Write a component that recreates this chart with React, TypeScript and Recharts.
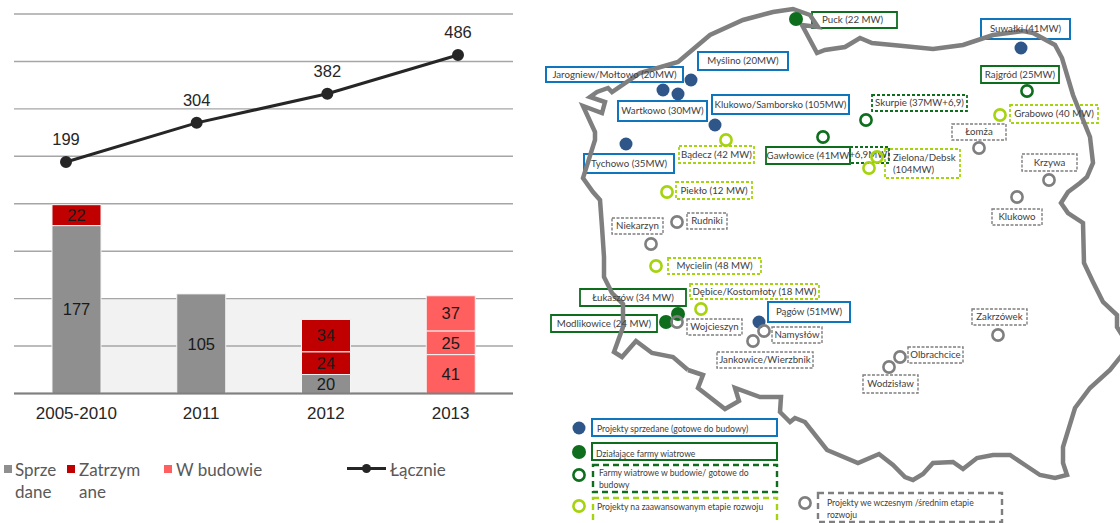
import { Bar, CartesianGrid, ComposedChart, LabelList, Legend, Line, LineChart, ReferenceArea, Scatter, ScatterChart, XAxis, YAxis } from "recharts";

// left panel: capacity by year
const years = ["2005-2010", "2011", "2012", "2013"];
const sold = [177, 105, 20, null];
const heldA = [22, null, 24, null];
const heldB = [null, null, 34, null];
const buildA = [null, null, null, 41];
const buildB = [null, null, null, 25];
const buildC = [null, null, null, 37];
const total = [199, 304, 382, 486];

const barData = years.map((year, i) => ({
  year,
  sold: sold[i],
  heldA: heldA[i],
  heldB: heldB[i],
  buildA: buildA[i],
  buildB: buildB[i],
  buildC: buildC[i],
}));
const lineData = years.map((year, i) => ({ year, total: total[i] }));
const barTicks = [0, 50, 100, 150, 200, 250, 300, 350, 400];

// right panel: map of Poland, in map units
type Pt = [number, number];
const outline: Pt[] = [
  [688, 370], [703, 375], [698, 388], [725, 409], [739, 401], [735, 388], [760, 397], [781, 397], [780, 412], [790, 422], [795, 418], [805, 422],
  [827, 450], [858, 463], [879, 454], [893, 465], [905, 477], [913, 480], [923, 474], [933, 463], [953, 462], [963, 469], [977, 458], [993, 455],
  [1010, 455], [1025, 465], [1040, 475], [1055, 478], [1067, 475], [1063, 463], [1063, 447], [1075, 408], [1090, 388], [1110, 370], [1122, 355],
];
const outlineNorth: Pt[] = [
  [1122, 335], [1117, 327], [1117, 315], [1103, 302], [1093, 282], [1084, 263], [1083, 223], [1068, 213], [1061, 203], [1068, 192], [1080, 183], [1087, 177],
  [1093, 163], [1090, 137], [1073, 95], [1062, 58], [1055, 45], [1033, 33], [1023, 31], [993, 35], [963, 45], [933, 49], [903, 46], [872, 43],
  [860, 38], [845, 47], [825, 50], [817, 53], [802, 25], [818, 27], [810, 15], [793, 9], [773, 12], [743, 20], [710, 35], [678, 62], [640, 73],
  [612, 92], [608, 88], [597, 92], [590, 97], [605, 102], [602, 113], [583, 106], [595, 132], [595, 140], [583, 178], [593, 192], [600, 200], [602, 227],
  [604, 257], [604, 277], [612, 293], [623, 304], [623, 327], [614, 352], [622, 357], [636, 341], [652, 353], [673, 357], [688, 370],
];

const soldSites: Pt[] = [[691, 80], [663, 90], [678, 94], [715, 125], [626, 144], [1021, 48], [759, 322], [579, 428]];
const operatingSites: Pt[] = [[796, 19], [666, 322], [678, 314], [579, 452]];
const buildingSites: Pt[] = [[1027, 91], [866, 120], [823, 137], [579, 475]];
const advancedSites: Pt[] = [[726, 140], [1000, 115], [877, 157], [869, 168], [667, 192], [656, 266], [701, 309], [579, 506]];
const earlySites: Pt[] = [[979, 148], [1049, 180], [1017, 197], [651, 244], [677, 222], [677, 322], [764, 331], [753, 341], [998, 335], [900, 357], [889, 367], [805, 503]];

type Box = { text: string[]; l: number; r: number; t: number; b: number; tx?: number };
const soldBoxes: Box[] = [
  { text: ["Myślino (20MW)"], l: 698, r: 788, t: 52, b: 70 },
  { text: ["Jarogniew/Mołtowo (20MW)"], l: 546, r: 683, t: 67, b: 82 },
  { text: ["Wartkowo (30MW)"], l: 618, r: 707, t: 101, b: 121 },
  { text: ["Klukowo/Samborsko (105MW)"], l: 712, r: 849, t: 95, b: 114 },
  { text: ["Tychowo (35MW)"], l: 584, r: 674, t: 154, b: 173 },
  { text: ["Suwałki (41MW)"], l: 981, r: 1070, t: 19, b: 39 },
  { text: ["Pągów (51MW)"], l: 768, r: 850, t: 302, b: 322 },
];
const operatingBoxes: Box[] = [
  { text: ["Puck (22 MW)"], l: 812, r: 897, t: 12, b: 28, tx: 822 },
  { text: ["Gawłowice (41MW"], l: 766, r: 850, t: 147, b: 164 },
  { text: ["Rajgród (25MW)"], l: 981, r: 1059, t: 66, b: 83 },
  { text: ["Łukaszów (34 MW)"], l: 580, r: 686, t: 289, b: 306 },
  { text: ["Modlikowice (24 MW)"], l: 551, r: 657, t: 315, b: 332 },
];
const buildingBoxes: Box[] = [
  { text: ["Skurpie (37MW+6,9)"], l: 872, r: 967, t: 95, b: 111 },
  { text: ["+6,9MW)"], l: 850, r: 889, t: 147, b: 163 },
];
const advancedBoxes: Box[] = [
  { text: ["Bądecz (42 MW)"], l: 679, r: 754, t: 146, b: 163 },
  { text: ["Zielona/Debsk", "(104MW)"], l: 885, r: 960, t: 149, b: 178, tx: 893 },
  { text: ["Grabowo (40 MW)"], l: 1010, r: 1098, t: 105, b: 123 },
  { text: ["Piekło (12 MW)"], l: 676, r: 752, t: 182, b: 199 },
  { text: ["Mycielin (48 MW)"], l: 668, r: 761, t: 258, b: 274 },
  { text: ["Dębice/Kostomłoty (18 MW)"], l: 690, r: 819, t: 284, b: 299 },
];
const earlyBoxes: Box[] = [
  { text: ["Łomża"], l: 952, r: 1006, t: 124, b: 140 },
  { text: ["Krzywa"], l: 1022, r: 1077, t: 154, b: 171 },
  { text: ["Klukowo"], l: 992, r: 1042, t: 209, b: 225 },
  { text: ["Niekarzyn"], l: 612, r: 663, t: 218, b: 234 },
  { text: ["Rudniki"], l: 687, r: 727, t: 213, b: 229 },
  { text: ["Wojcieszyn"], l: 687, r: 742, t: 319, b: 335 },
  { text: ["Namysłów"], l: 772, r: 822, t: 327, b: 343 },
  { text: ["Jankowice/Wierzbnik"], l: 717, r: 813, t: 352, b: 368 },
  { text: ["Zakrzówek"], l: 972, r: 1027, t: 309, b: 325 },
  { text: ["Olbrachcice"], l: 908, r: 963, t: 347, b: 363 },
  { text: ["Wodzisław"], l: 863, r: 918, t: 375, b: 393 },
];

// map key, bottom left
type KeyBox = Box & { color: string; tx: number; ty: number };
const keySolid: KeyBox[] = [
  { text: ["Projekty sprzedane (gotowe do budowy)"], color: "#0f75bd", l: 592, r: 777, t: 419, b: 436, tx: 597, ty: 432 },
  { text: ["Działające farmy wiatrowe"], color: "#0e6e1e", l: 592, r: 777, t: 443, b: 460, tx: 596, ty: 457 },
];
const keyDashed: KeyBox[] = [
  { text: ["Farmy wiatrowe w budowie/ gotowe do", "budowy"], color: "#0e6e1e", l: 593, r: 777, t: 465, b: 492, tx: 599, ty: 476 },
  { text: ["Projekty na zaawansowanym etapie rozwoju"], color: "#a5d40f", l: 593, r: 777, t: 498, b: 530, tx: 597, ty: 510 },
  { text: ["Projekty we wczesnym /średnim etapie", "rozwoju"], color: "#7f7f7f", l: 818, r: 1002, t: 493, b: 522, tx: 827, ty: 506 },
];

const SANS = "'Liberation Sans', Arial, sans-serif";
const LABEL_FONT = "Lato, 'Open Sans', sans-serif";
const GREY = "#8f8f8f";
const RED = "#c00000";
const PINK = "#ff5f5f";

const toPoints = (pts: Pt[]) => pts.map(([x, y]) => ({ x, y }));

const dotShape = (color: string, r: number) => (p: any) => <circle cx={p.cx} cy={p.cy} r={r} fill={color} />;
const ringShape = (color: string, r: number) => (p: any) => (
  <circle cx={p.cx} cy={p.cy} r={r} fill="none" stroke={color} strokeWidth={2.6} />
);
const noMark = () => <g />;

const boxTextShape = (size: number) => (p: any) => {
  const lines: string[] = p.payload.text;
  const lh = size * 1.25;
  return (
    <text textAnchor={p.payload.start ? "start" : "middle"} fontFamily={LABEL_FONT} fontSize={size} fill="#404040">
      {lines.map((line, i) => (
        <tspan key={line} x={p.cx} y={p.cy + size * 0.35 + (i - (lines.length - 1) / 2) * lh}>
          {line}
        </tspan>
      ))}
    </text>
  );
};
const keyTextShape = (p: any) => {
  const lines: string[] = p.payload.text;
  return (
    <text fontFamily={LABEL_FONT} fontSize={8.6} fill="#404040">
      {lines.map((line, i) => (
        <tspan key={line} x={p.cx} y={p.cy + i * 11.5}>
          {line}
        </tspan>
      ))}
    </text>
  );
};

const boxCentres = (boxes: Box[]) =>
  boxes.map((b) => ({ x: b.tx ?? (b.l + b.r) / 2, y: (b.t + b.b) / 2, text: b.text, start: b.tx !== undefined }));

function boxAreas(boxes: Box[], color: string, dash?: string, width = 1.6) {
  return boxes.map((b) => (
    <ReferenceArea
      key={b.text[0]}
      x1={b.l}
      x2={b.r}
      y1={b.t}
      y2={b.b}
      fill="none"
      fillOpacity={0}
      stroke={color}
      strokeOpacity={1}
      strokeWidth={width}
      strokeDasharray={dash}
      ifOverflow="visible"
    />
  ));
}

function YearLegend() {
  const text = { position: "absolute" as const, fontFamily: LABEL_FONT, fontSize: 17, lineHeight: "22px", color: "#595959", textAlign: "left" as const };
  const square = (left: number, color: string) => (
    <div style={{ position: "absolute", left, top: 10, width: 8, height: 8, background: color }} />
  );
  return (
    <div style={{ position: "relative", width: 540, height: 60 }}>
      {square(4, GREY)}
      <div style={{ ...text, left: 15, top: 4 }}>Sprze<br />dane</div>
      {square(67, RED)}
      <div style={{ ...text, left: 79, top: 4 }}>Zatrzym<br />ane</div>
      {square(164, PINK)}
      <div style={{ ...text, left: 176, top: 4 }}>W budowie</div>
      <div style={{ position: "absolute", left: 347, top: 12, width: 39, height: 3, background: "#262626" }} />
      <div style={{ position: "absolute", left: 362, top: 9, width: 9, height: 9, borderRadius: 5, background: "#262626" }} />
      <div style={{ ...text, left: 390, top: 4 }}>Łącznie</div>
    </div>
  );
}

const barLabel = { fontFamily: SANS, fontSize: 16.5, fill: "#1a1a1a" };

export default function App() {
  return (
    <div style={{ position: "absolute", left: 0, top: 0, width: 1120, height: 523, background: "#fff", overflow: "hidden" }}>
      {/* shaded band only runs between the outer bars */}
      <div style={{ position: "absolute", left: 0, top: 0 }}>
        <LineChart width={540} height={523} data={lineData} margin={{ top: 14, right: 90, bottom: 129.5, left: 76 }}>
          <XAxis dataKey="year" hide />
          <YAxis hide domain={[0, 400]} allowDataOverflow />
          <Line dataKey="total" stroke="none" dot={false} isAnimationActive={false} />
          <ReferenceArea x1="2005-2010" x2="2013" y1={0} y2={100} fill="#f2f2f2" fillOpacity={1} stroke="none" ifOverflow="visible" />
        </LineChart>
      </div>

      <div style={{ position: "absolute", left: 0, top: 0 }}>
        <ComposedChart width={540} height={523} data={barData} margin={{ top: 14, right: 27, bottom: 99.5, left: 14 }}>
          <CartesianGrid vertical={false} stroke="#a6a6a6" strokeWidth={1.4} />
          <XAxis
            dataKey="year"
            height={30}
            tickLine={false}
            axisLine={{ stroke: "#808080", strokeWidth: 2 }}
            tick={{ fontFamily: SANS, fontSize: 17, fill: "#262626" }}
            tickMargin={7}
            interval={0}
          />
          <YAxis hide domain={[0, 400]} ticks={barTicks} />
          <Legend
            verticalAlign="middle"
            align="center"
            wrapperStyle={{ left: 0, top: 455, width: 540, height: 60 }}
            content={() => <YearLegend />}
          />
          <Bar dataKey="sold" stackId="a" fill={GREY} stroke="#f4f4f4" barSize={49} isAnimationActive={false}>
            <LabelList dataKey="sold" position="center" {...barLabel} />
          </Bar>
          <Bar dataKey="heldA" stackId="a" fill={RED} stroke="#f4f4f4" barSize={49} isAnimationActive={false}>
            <LabelList dataKey="heldA" position="center" {...barLabel} />
          </Bar>
          <Bar dataKey="heldB" stackId="a" fill={RED} stroke="#f4f4f4" barSize={49} isAnimationActive={false}>
            <LabelList dataKey="heldB" position="center" {...barLabel} />
          </Bar>
          <Bar dataKey="buildA" stackId="a" fill={PINK} stroke="#f4f4f4" barSize={49} isAnimationActive={false}>
            <LabelList dataKey="buildA" position="center" {...barLabel} />
          </Bar>
          <Bar dataKey="buildB" stackId="a" fill={PINK} stroke="#f4f4f4" barSize={49} isAnimationActive={false}>
            <LabelList dataKey="buildB" position="center" {...barLabel} />
          </Bar>
          <Bar dataKey="buildC" stackId="a" fill={PINK} stroke="#f4f4f4" barSize={49} isAnimationActive={false}>
            <LabelList dataKey="buildC" position="center" {...barLabel} />
          </Bar>
        </ComposedChart>
      </div>

      <div style={{ position: "absolute", left: 0, top: 0 }}>
        <LineChart width={540} height={523} data={lineData} margin={{ top: 14, right: 82, bottom: 129.5, left: 66 }}>
          <XAxis dataKey="year" hide />
          <YAxis hide domain={[-422, 596]} />
          <Line dataKey="total" stroke="#262626" strokeWidth={3} dot={{ r: 4.5, fill: "#262626", stroke: "#262626" }} isAnimationActive={false}>
            <LabelList dataKey="total" position="top" offset={17} {...barLabel} fill="#262626" />
          </Line>
        </LineChart>
      </div>

      <div style={{ position: "absolute", left: 540, top: 0 }}>
        <ScatterChart width={580} height={523} margin={{ top: 0, right: 0, bottom: 0, left: 0 }}>
          <XAxis type="number" dataKey="x" domain={[540, 1120]} hide allowDataOverflow />
          <YAxis type="number" dataKey="y" domain={[0, 523]} reversed hide allowDataOverflow />
          <Scatter data={toPoints(outline)} line={{ stroke: "#7f7f7f", strokeWidth: 4.5 }} shape={noMark} isAnimationActive={false} />
          <Scatter data={toPoints(outlineNorth)} line={{ stroke: "#7f7f7f", strokeWidth: 4.5 }} shape={noMark} isAnimationActive={false} />
          {boxAreas(soldBoxes, "#0f75bd", undefined, 2)}
          {boxAreas(operatingBoxes, "#0e6e1e", undefined, 1.8)}
          {boxAreas(buildingBoxes, "#0e6e1e", "3 2", 1.8)}
          {boxAreas(advancedBoxes, "#a5d40f", "3 2", 1.8)}
          {boxAreas(earlyBoxes, "#7f7f7f", "3 1.5", 1.4)}
          {keySolid.map((b) => boxAreas([b], b.color, undefined, 2))}
          {keyDashed.map((b) => boxAreas([b], b.color, "6 4", 2.4))}
          <Scatter
            data={[...boxCentres(soldBoxes), ...boxCentres(operatingBoxes), ...boxCentres(buildingBoxes), ...boxCentres(advancedBoxes), ...boxCentres(earlyBoxes)]}
            shape={boxTextShape(9.7)}
            isAnimationActive={false}
          />
          <Scatter
            data={[...keySolid, ...keyDashed].map((b) => ({ x: b.tx, y: b.ty, text: b.text }))}
            shape={keyTextShape}
            isAnimationActive={false}
          />
          <Scatter data={toPoints(soldSites)} shape={dotShape("#2f5689", 6.5)} isAnimationActive={false} />
          <Scatter data={toPoints(operatingSites)} shape={dotShape("#0e6e1e", 7)} isAnimationActive={false} />
          <Scatter data={toPoints(buildingSites)} shape={ringShape("#0e6e1e", 5.6)} isAnimationActive={false} />
          <Scatter data={toPoints(advancedSites)} shape={ringShape("#a5d40f", 5.6)} isAnimationActive={false} />
          <Scatter data={toPoints(earlySites)} shape={ringShape("#7f7f7f", 5.6)} isAnimationActive={false} />
        </ScatterChart>
      </div>
    </div>
  );
}
